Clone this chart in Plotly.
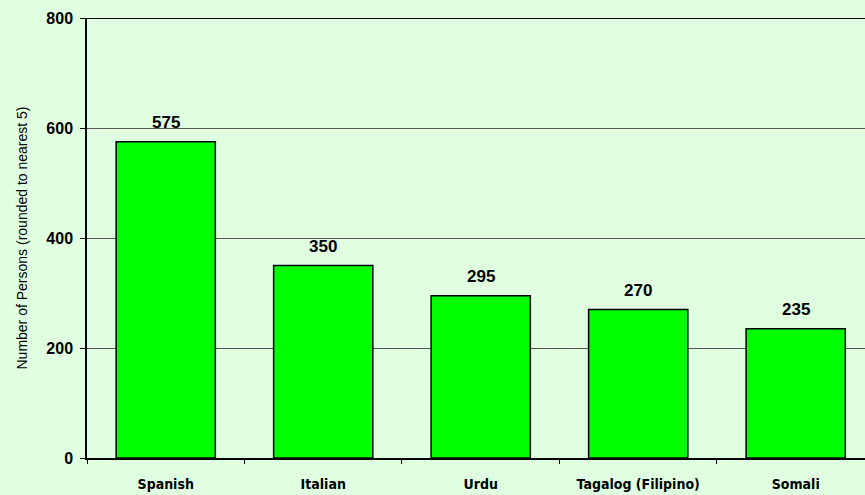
import plotly.graph_objects as go

languages = ["Spanish", "Italian", "Urdu", "Tagalog (Filipino)", "Somali"]
persons = [575, 350, 295, 270, 235]
y_ticks = [0, 200, 400, 600, 800]

BG = "#E0FFE0"
fig = go.Figure()
fig.add_trace(go.Bar(
    x=languages, y=persons, width=0.63,
    marker=dict(color="#00FF00", line=dict(color="black", width=1.5)),
))
for lang, v in zip(languages, persons):
    fig.add_annotation(x=lang, y=v, text=str(v), showarrow=False, yanchor="bottom", yshift=8,
                       font=dict(family="Arial", size=17, color="black", weight="bold"))
fig.update_layout(
    width=865, height=495,
    margin=dict(l=87, r=0, t=18, b=37),
    paper_bgcolor=BG, plot_bgcolor=BG,
    showlegend=False,
)
fig.update_xaxes(
    range=[-0.5, 4.44], tickson="boundaries", ticks="outside", ticklen=4, tickcolor="black",
    showline=True, linecolor="black", linewidth=1.5, showgrid=False, ticklabelstandoff=12,
    tickfont=dict(family="DejaVu Sans Condensed", size=14, color="black", weight="bold"),
)
fig.update_yaxes(
    range=[0, 800], tickvals=y_ticks, ticks="outside", ticklen=5, tickcolor="black",
    showline=True, linecolor="black", linewidth=1.5, ticklabelstandoff=4,
    showgrid=True, gridcolor="#555555", gridwidth=1, zeroline=False,
    tickfont=dict(family="Arial", size=16, color="black", weight="bold"),
    title=dict(text="Number of Persons (rounded to nearest 5)", standoff=15,
               font=dict(family="Arial", size=14, color="black")),
)
fig.add_shape(type="line", xref="paper", yref="y", x0=0, x1=1, y0=800, y1=800,
              line=dict(color="black", width=2))
fig.write_html("out.html", config={"displayModeBar": False},
               post_script="document.body.style.margin='0';document.body.style.background='%s';" % BG)
